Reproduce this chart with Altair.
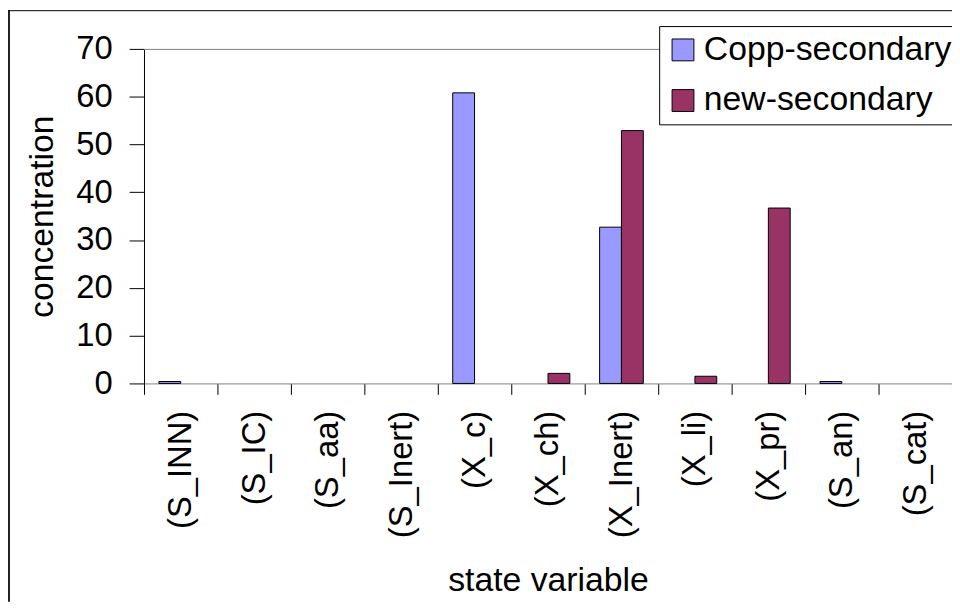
import altair as alt
import pandas as pd

categories = ["(S_INN)", "(S_IC)", "(S_aa)", "(S_Inert)", "(X_c)", "(X_ch)",
              "(X_Inert)", "(X_li)", "(X_pr)", "(S_an)", "(S_cat)"]
series_names = ["Copp-secondary", "new-secondary"]
copp_secondary = [0.4, 0, 0, 0, 60.8, 0, 32.7, 0, 0, 0.4, 0]
new_secondary = [0, 0, 0, 0, 0, 2.1, 52.9, 1.5, 36.7, 0, 0]
y_ticks = [0, 10, 20, 30, 40, 50, 60, 70]
colors = ["#9999FF", "#993366"]

rows = []
for c, a, b in zip(categories, copp_secondary, new_secondary):
    rows.append({"cat": c, "series": series_names[0], "value": a})
    rows.append({"cat": c, "series": series_names[1], "value": b})
df = pd.DataFrame(rows)

FONT = "Liberation Sans"
W, H = 814, 337
PL, PT, PR, PB = 137, 39, 0, 220

bars = alt.Chart(df).transform_filter("datum.value > 0").mark_bar(
    stroke="black", strokeWidth=1, opacity=1
).encode(
    x=alt.X("cat:N", sort=categories,
            scale=alt.Scale(domain=categories, paddingInner=0, paddingOuter=0),
            axis=alt.Axis(title="state variable", labelAngle=270, tickBand="extent",
                          tickSize=11, tickColor="black", domainColor="#808080",
                          labelPadding=16, labelFontSize=33, labelFont=FONT,
                          labelColor="black", titleFont=FONT, titleFontSize=34,
                          titleFontWeight="normal", titleColor="black",
                          titleX=W / 2, titleY=209, titleBaseline="alphabetic",
                          titleAlign="center", grid=False, labelLimit=0)),
    xOffset=alt.XOffset("series:N", sort=series_names,
                        scale=alt.Scale(domain=series_names, paddingInner=0, paddingOuter=0.682)),
    y=alt.Y("value:Q", scale=alt.Scale(domain=[0, 70], nice=False),
            axis=alt.Axis(title="concentration", values=y_ticks, tickSize=15,
                          tickColor="black", domainColor="black",
                          labelPadding=17, labelFontSize=33, labelFont=FONT,
                          labelColor="black", titleFont=FONT, titleFontSize=34,
                          titleFontWeight="normal", titleColor="black",
                          titleAngle=270, titleX=-102, titleY=H / 2,
                          titleAlign="center", titleBaseline="middle", grid=False)),
    color=alt.Color("series:N", sort=series_names,
                    scale=alt.Scale(domain=series_names, range=colors),
                    legend=alt.Legend(title=None, orient="none", legendX=519, legendY=-23,
                                      strokeColor="black", fillColor="white", padding=7,
                                      labelFontSize=34, labelFont=FONT, labelColor="black",
                                      labelLimit=0,
                                      symbolType="square", symbolSize=484,
                                      symbolStrokeColor="black", symbolStrokeWidth=1,
                                      symbolOpacity=1, rowPadding=17, labelOffset=4)),
)

one = pd.DataFrame({"a": [0]})
top_line = alt.Chart(one).mark_rule(color="#808080", strokeWidth=1).encode(
    x=alt.value(0), x2=alt.value(W), y=alt.value(0.5))
left_border = alt.Chart(one).mark_rule(color="#222222", strokeWidth=2).encode(
    x=alt.value(-PL + 1), y=alt.value(-PT), y2=alt.value(H + PB))
top_border = alt.Chart(one).mark_rule(color="black", strokeWidth=1).encode(
    x=alt.value(-PL), x2=alt.value(W + PR), y=alt.value(-PT + 0.5))

chart = alt.layer(top_line, bars, left_border, top_border).properties(
    width=W, height=H,
    padding={"left": PL, "top": PT, "right": PR, "bottom": PB},
    autosize=alt.AutoSizeParams(type="none"),
    background="white",
).configure_view(stroke=None)

chart.save("out.html", embed_options={"renderer": "svg", "actions": False})
